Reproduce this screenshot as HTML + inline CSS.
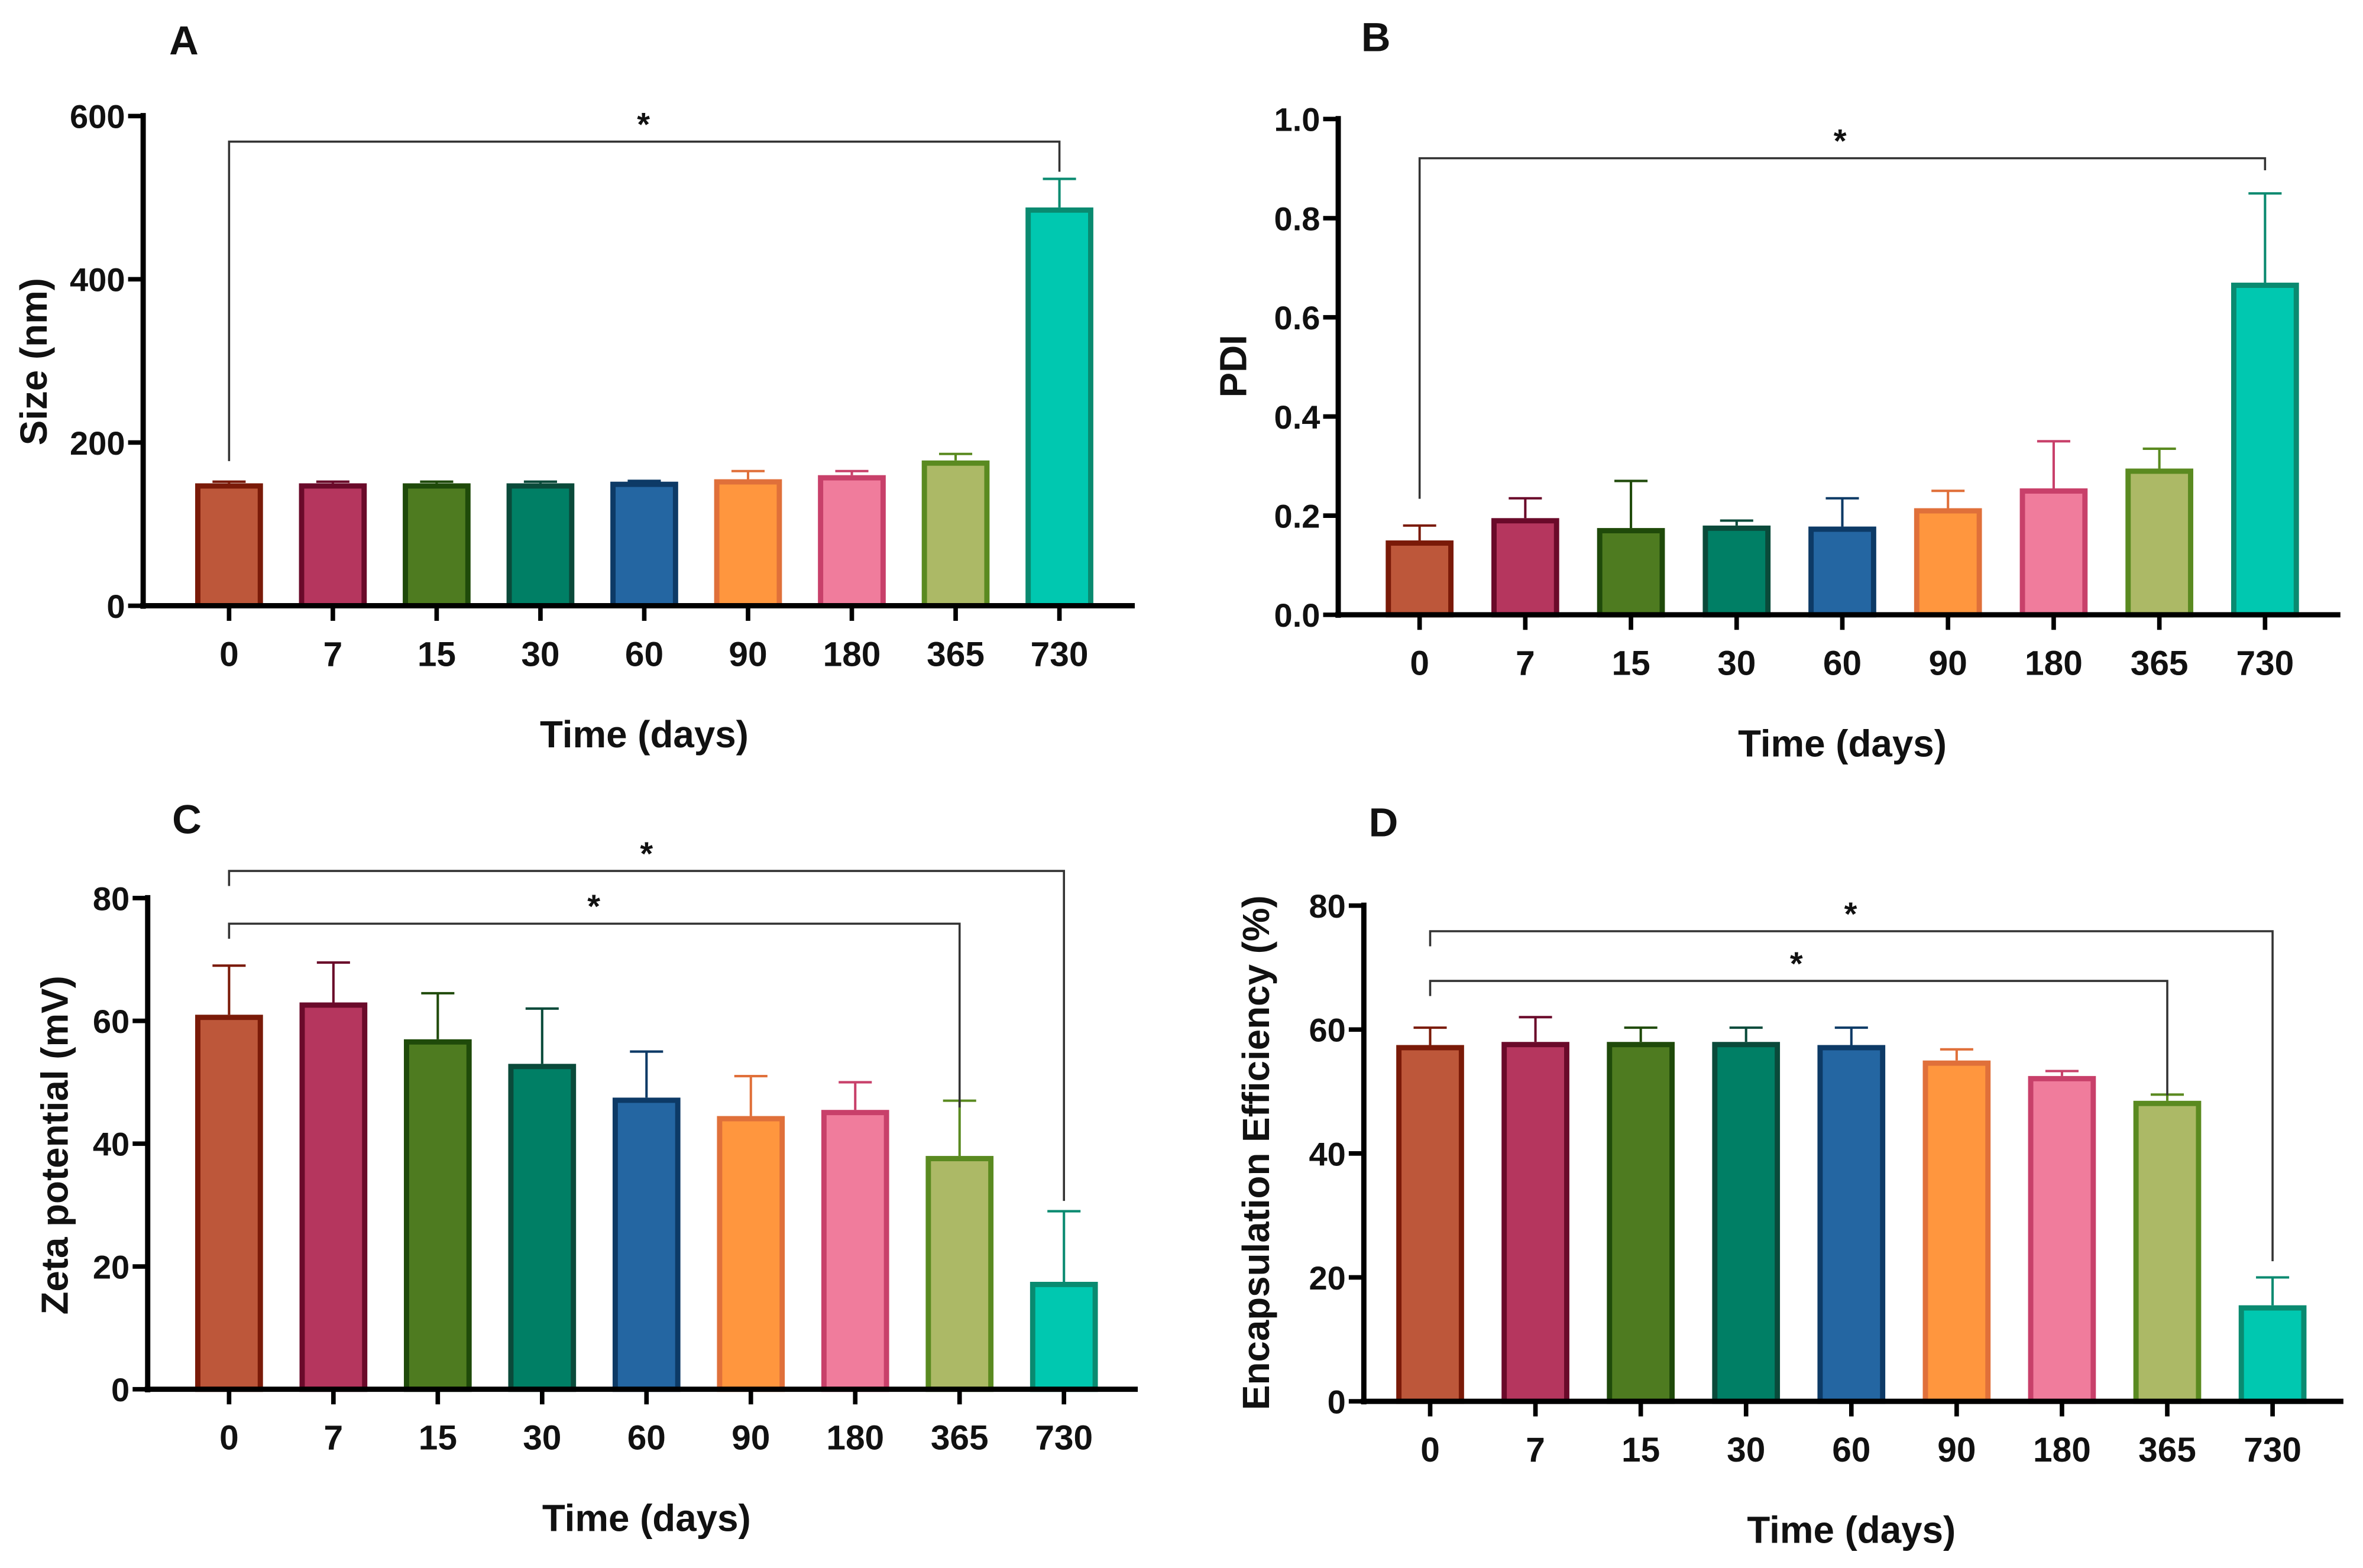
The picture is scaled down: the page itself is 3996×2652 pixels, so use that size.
<!DOCTYPE html>
<html><head><meta charset="utf-8"><style>
html,body{margin:0;padding:0;background:#fff}
svg{display:block}
text{font-family:"Liberation Sans",sans-serif;font-weight:bold;fill:#111}
</style></head><body>
<svg id="fig" width="3996" height="2652" viewBox="0 0 1568 1040.6" xmlns="http://www.w3.org/2000/svg"></svg>
<script>
const categories = ["0","7","15","30","60","90","180","365","730"];
const sizeValues = [150,150,150,150,152,155,160,178,488];
const sizeErrTop = [152,152,152,152,153,165,165,186,523];
const sizeTicks = [0,200,400,600];
const pdiValues = [0.15,0.195,0.175,0.18,0.178,0.215,0.255,0.295,0.67];
const pdiErrTop = [0.18,0.235,0.27,0.19,0.235,0.25,0.35,0.335,0.85];
const pdiTicks = [0,0.2,0.4,0.6,0.8,1.0];
const pdiTickLabels = ["0.0","0.2","0.4","0.6","0.8","1.0"];
const zetaValues = [61,63,57,53,47.5,44.5,45.5,38,17.5];
const zetaErrTop = [69,69.5,64.5,62,55,51,50,47,29];
const zetaTicks = [0,20,40,60,80];
const eeValues = [57.5,58,58,58,57.5,55,52.5,48.5,15.5];
const eeErrTop = [60.3,62,60.3,60.3,60.3,56.8,53.3,49.5,20];
const eeTicks = [0,20,40,60,80];
const fills = ["#bd573a","#b5365e","#4e7b20","#007f65","#2466a2","#ff963e","#f07c9c","#acb966","#00c8b0"];
const strokes = ["#7a1a08","#6a0a2a","#1f4a0a","#0a4a3a","#0d3a66","#e0703a","#c8406a","#5a8a20","#0a8a70"];

const NS="http://www.w3.org/2000/svg";
const svg=document.getElementById('fig');
function el(tag,attrs,parent,txt){const e=document.createElementNS(NS,tag);for(const k in attrs)e.setAttribute(k,attrs[k]);if(txt!==undefined)e.textContent=txt;(parent||svg).appendChild(e);return e;}

function panel(p){
  const g=el('g',{});
  
  
  const y=v=>p.y0-(v-p.min)/(p.max-p.min)*(p.y0-p.yTop);
  const step=(p.xLast-p.xFirst)/(categories.length-1);
  const x=i=>p.xFirst+i*step;
  const bw=45;
  const L=el('text',{x:p.lx,y:p.ly,'font-size':27,'text-anchor':'middle'},g,p.letter);
  
  categories.forEach((c,i)=>{
    const v=p.vals[i],e=p.errs[i];
    const eb=el('g',{},g);
    
    el('line',{x1:x(i),x2:x(i),y1:y(v),y2:y(e),stroke:strokes[i],'stroke-width':1.6},eb);
    el('line',{x1:x(i)-11,x2:x(i)+11,y1:y(e),y2:y(e),stroke:strokes[i],'stroke-width':1.6},eb);
    const r=el('rect',{x:x(i)-bw/2+1.75,y:y(v)+1.75,width:bw-3.5,height:Math.max(0,y(p.min)-y(v)-1.75),fill:fills[i],stroke:strokes[i],'stroke-width':3.5},g);
    
  });
  const ya=el('line',{x1:p.ax,x2:p.ax,y1:p.yTop-2,y2:p.y0+2,stroke:'#000','stroke-width':3.5},g);
  
  const xa=el('line',{x1:p.ax-2,x2:p.axEnd,y1:p.y0,y2:p.y0,stroke:'#000','stroke-width':3.5},g);
  
  p.ticks.forEach((t,i)=>{
    el('line',{x1:p.ax-10,x2:p.ax,y1:y(t),y2:y(t),stroke:'#000','stroke-width':3},g);
    const tl=el('text',{x:p.ax-12,y:y(t)+8,'font-size':22,'text-anchor':'end'},g,p.tickLabels?p.tickLabels[i]:String(t));
    
  });
  categories.forEach((c,i)=>{
    el('line',{x1:x(i),x2:x(i),y1:p.y0,y2:p.y0+10,stroke:'#000','stroke-width':3},g);
    const tl=el('text',{x:x(i),y:p.y0+40,'font-size':23,'text-anchor':'middle'},g,c);
    
  });
  const xt=el('text',{x:(p.xFirst+p.xLast)/2,y:p.y0+94,'font-size':25,'text-anchor':'middle'},g,'Time (days)');
  
  const yt=el('text',{x:p.ytx,y:p.yty,'font-size':25,'text-anchor':'middle',transform:`rotate(-90 ${p.ytx} ${p.yty})`},g,p.ytitle);
  
  p.brackets.forEach(b=>{
    const bg=el('g',{},g);
    
    el('polyline',{points:`${x(0)},${b.yl} ${x(0)},${b.y} ${x(b.to)},${b.y} ${x(b.to)},${b.yr}`,fill:'none',stroke:'#333','stroke-width':1.4},bg);
    el('text',{x:b.sx,y:b.y-4,'font-size':22,'text-anchor':'middle'},bg,'*');
  });
}

panel({letter:'A',lx:122,ly:36,vals:sizeValues,errs:sizeErrTop,ticks:sizeTicks,min:0,max:600,y0:402,yTop:77,ax:95,axEnd:753,xFirst:152,xLast:703,ytitle:'Size (nm)',ytx:31,yty:240,
  brackets:[{y:94,to:8,yl:306,yr:114,sx:427}]});
panel({letter:'B',lx:913,ly:34,vals:pdiValues,errs:pdiErrTop,ticks:pdiTicks,tickLabels:pdiTickLabels,min:0,max:1,y0:408,yTop:79,ax:888,axEnd:1553,xFirst:942,xLast:1503,ytitle:'PDI',ytx:827,yty:243,
  brackets:[{y:105,to:8,yl:331,yr:113,sx:1221}]});
panel({letter:'C',lx:124,ly:553,vals:zetaValues,errs:zetaErrTop,ticks:zetaTicks,min:0,max:80,y0:922,yTop:596,ax:98,axEnd:755,xFirst:152,xLast:706,ytitle:'Zeta potential (mV)',ytx:45,yty:760,
  brackets:[{y:578,to:8,yl:588,yr:797,sx:429},{y:613,to:7,yl:623,yr:735,sx:394}]});
panel({letter:'D',lx:918,ly:555,vals:eeValues,errs:eeErrTop,ticks:eeTicks,min:0,max:80,y0:930,yTop:601,ax:905,axEnd:1555,xFirst:949,xLast:1508,ytitle:'Encapsulation Efficiency (%)',ytx:842,yty:765,
  brackets:[{y:618,to:8,yl:628,yr:837,sx:1228},{y:651,to:7,yl:661,yr:727,sx:1192}]});
</script>
</body></html>
